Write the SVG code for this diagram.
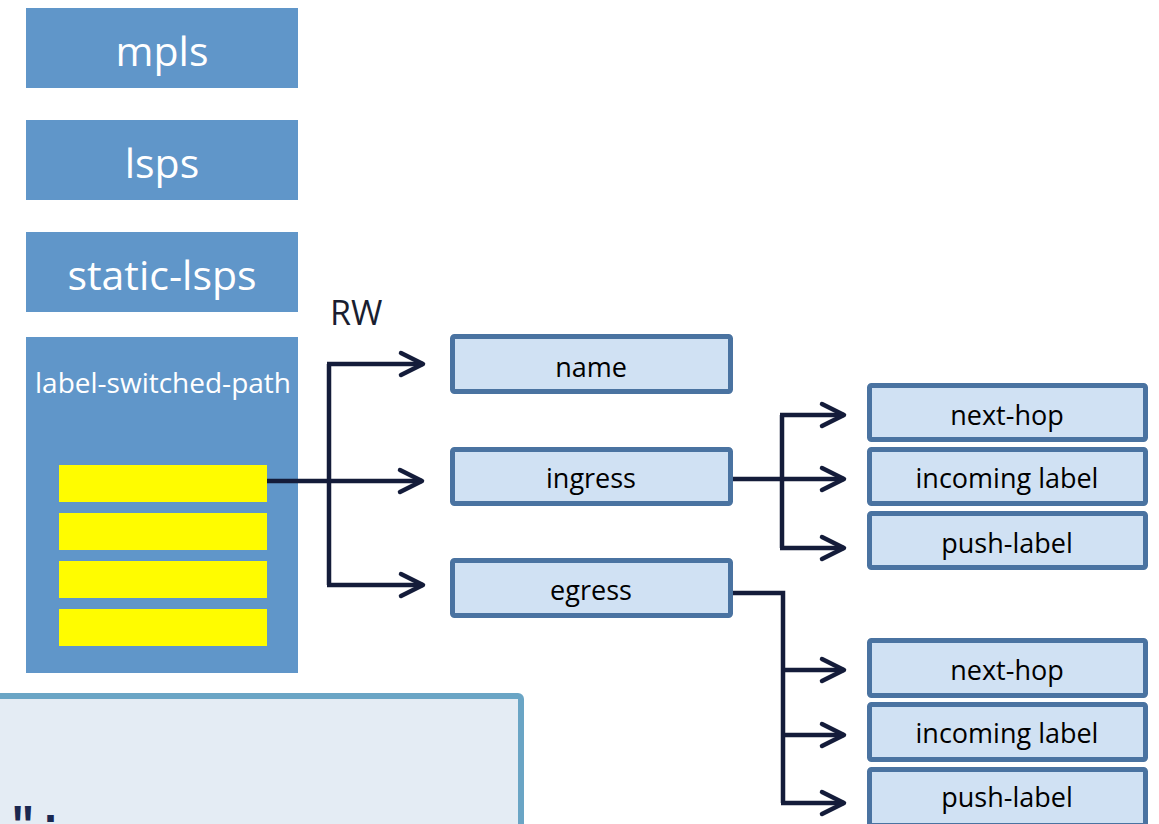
<svg xmlns="http://www.w3.org/2000/svg" width="1159" height="824" viewBox="0 0 1159 824">
  <style>
    .hdr { fill: #6096c9; }
    .hdr-t { font-family: "Open Sans", "Liberation Sans", sans-serif; fill: #ffffff; text-anchor: middle; }
    .leaf { fill: #d0e1f3; stroke: #4a73a1; stroke-width: 5; }
    .leaf-t { font-family: "Open Sans", "Liberation Sans", sans-serif; font-size: 27px; fill: #000000; text-anchor: middle; }
    .bar { fill: #fffc00; }
    .wire { fill: none; stroke: #141c3a; stroke-width: 4.5; stroke-linecap: butt; stroke-linejoin: miter; }
  </style>
  <defs>
    <marker id="chev" markerUnits="userSpaceOnUse" markerWidth="30" markerHeight="30" refX="24" refY="12" orient="auto" overflow="visible">
      <path d="M2,1 L24,12 L2,23" fill="none" stroke="#141c3a" stroke-width="4.5" stroke-linecap="round" stroke-linejoin="round"/>
    </marker>
  </defs>

  <rect width="1159" height="824" fill="#ffffff"/>

  <!-- code panel, partly outside the page -->
  <g id="code-panel">
    <rect x="-12" y="696" width="533" height="200" rx="3" fill="#e4ecf4" stroke="#6aa5c5" stroke-width="6"/>
    <text x="9" y="840" font-family="Liberation Mono, DejaVu Sans Mono, monospace" font-weight="bold" font-size="46" fill="#1a2850">";</text>
  </g>

  <!-- container hierarchy -->
  <g id="mpls">
    <rect class="hdr" x="26" y="8" width="272" height="80"/>
    <text class="hdr-t" x="162" y="66" font-size="41">mpls</text>
  </g>
  <g id="lsps">
    <rect class="hdr" x="26" y="120" width="272" height="80"/>
    <text class="hdr-t" x="162" y="178" font-size="41">lsps</text>
  </g>
  <g id="static-lsps">
    <rect class="hdr" x="26" y="232" width="272" height="80"/>
    <text class="hdr-t" x="162" y="290" font-size="41">static-lsps</text>
  </g>
  <g id="label-switched-path">
    <rect class="hdr" x="26" y="337" width="272" height="336"/>
    <text class="hdr-t" x="163" y="393" font-size="28">label-switched-path</text>
    <rect class="bar" x="59" y="465" width="208" height="37"/>
    <rect class="bar" x="59" y="513" width="208" height="37"/>
    <rect class="bar" x="59" y="561" width="208" height="37"/>
    <rect class="bar" x="59" y="609" width="208" height="37"/>
  </g>

  <g id="rw-label">
    <text x="330" y="325" font-family="Open Sans, Liberation Sans, sans-serif" font-size="34" fill="#1a1e30">RW</text>
  </g>

  <!-- list entry leaves -->
  <g id="name">
    <rect class="leaf" x="452.5" y="336.5" width="278" height="55" rx="2"/>
    <text class="leaf-t" x="591" y="377">name</text>
  </g>
  <g id="ingress">
    <rect class="leaf" x="452.5" y="449.5" width="278" height="54" rx="2"/>
    <text class="leaf-t" x="591" y="488">ingress</text>
  </g>
  <g id="egress">
    <rect class="leaf" x="452.5" y="560.5" width="278" height="55" rx="2"/>
    <text class="leaf-t" x="591" y="600">egress</text>
  </g>

  <!-- ingress children -->
  <g id="ingress-next-hop">
    <rect class="leaf" x="869.5" y="385.5" width="276" height="54" rx="2"/>
    <text class="leaf-t" x="1007" y="425">next-hop</text>
  </g>
  <g id="ingress-incoming-label">
    <rect class="leaf" x="869.5" y="449.5" width="276" height="54" rx="2"/>
    <text class="leaf-t" x="1007" y="488">incoming label</text>
  </g>
  <g id="ingress-push-label">
    <rect class="leaf" x="869.5" y="513.5" width="276" height="54" rx="2"/>
    <text class="leaf-t" x="1007" y="553">push-label</text>
  </g>

  <!-- egress children -->
  <g id="egress-next-hop">
    <rect class="leaf" x="869.5" y="640.5" width="276" height="55" rx="2"/>
    <text class="leaf-t" x="1007" y="680">next-hop</text>
  </g>
  <g id="egress-incoming-label">
    <rect class="leaf" x="869.5" y="704.5" width="276" height="55" rx="2"/>
    <text class="leaf-t" x="1007" y="743">incoming label</text>
  </g>
  <g id="egress-push-label">
    <rect class="leaf" x="869.5" y="769.5" width="276" height="56" rx="2"/>
    <text class="leaf-t" x="1007" y="807">push-label</text>
  </g>

  <!-- connectors -->
  <g id="connectors">
    <path class="wire" d="M267,481 H422" marker-end="url(#chev)"/>
    <path class="wire" d="M329,364 V585"/>
    <path class="wire" d="M327,364 H423" marker-end="url(#chev)"/>
    <path class="wire" d="M327,585 H423" marker-end="url(#chev)"/>

    <path class="wire" d="M733,479 H844" marker-end="url(#chev)"/>
    <path class="wire" d="M782,415 V548"/>
    <path class="wire" d="M780,415 H844" marker-end="url(#chev)"/>
    <path class="wire" d="M780,548 H844" marker-end="url(#chev)"/>

    <path class="wire" d="M733,593 H783 V803"/>
    <path class="wire" d="M783,670 H844" marker-end="url(#chev)"/>
    <path class="wire" d="M783,735 H844" marker-end="url(#chev)"/>
    <path class="wire" d="M781,803 H844" marker-end="url(#chev)"/>
  </g>
</svg>
